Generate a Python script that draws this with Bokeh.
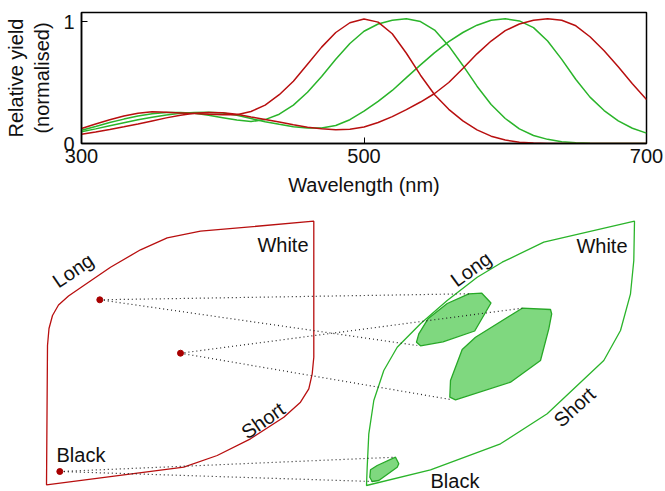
import math
from bokeh.plotting import figure
from bokeh.models import Range1d, FixedTicker
from bokeh.core.properties import value
from bokeh.embed import file_html
from bokeh.resources import INLINE

# ---------------- data: spectral curves ----------------
wavelength = [300, 310, 320, 330, 340, 350, 360, 370, 380, 390, 400, 410, 420, 430,
              440, 450, 460, 470, 480, 490, 500, 510, 520, 530, 540, 550, 560, 570,
              580, 590, 600, 610, 620, 630, 640, 650, 660, 670, 680, 690, 700]
red_500 = [0.123, 0.160, 0.195, 0.225, 0.248, 0.260, 0.257, 0.251, 0.245, 0.240, 0.236,
           0.236, 0.262, 0.315, 0.400, 0.510, 0.650, 0.790, 0.910, 0.990, 1.020, 0.995,
           0.900, 0.740, 0.560, 0.400, 0.280, 0.185, 0.112, 0.060, 0.028, 0.011, 0.004,
           0.001, 0.0, 0.0, 0.0, 0.0, 0.0, 0.0, 0.0]
green_530 = [0.109, 0.140, 0.172, 0.200, 0.225, 0.243, 0.254, 0.255, 0.247, 0.232, 0.212,
             0.192, 0.180, 0.196, 0.240, 0.315, 0.420, 0.550, 0.690, 0.820, 0.920, 0.980,
             1.010, 1.022, 1.000, 0.930, 0.800, 0.640, 0.470, 0.320, 0.205, 0.120, 0.066,
             0.034, 0.015, 0.006, 0.002, 0.0, 0.0, 0.0, 0.0]
green_600 = [0.096, 0.120, 0.145, 0.170, 0.195, 0.215, 0.233, 0.247, 0.255, 0.257, 0.250,
             0.232, 0.205, 0.178, 0.157, 0.138, 0.127, 0.127, 0.148, 0.195, 0.265, 0.345,
             0.435, 0.540, 0.645, 0.745, 0.835, 0.910, 0.970, 1.010, 1.022, 1.005, 0.950,
             0.840, 0.690, 0.525, 0.380, 0.270, 0.185, 0.125, 0.085]
red_630 = [0.076, 0.095, 0.115, 0.137, 0.160, 0.185, 0.210, 0.232, 0.248, 0.255, 0.252,
           0.240, 0.218, 0.197, 0.176, 0.153, 0.133, 0.120, 0.113, 0.116, 0.135, 0.172,
           0.220, 0.278, 0.340, 0.410, 0.500, 0.615, 0.735, 0.840, 0.925, 0.980, 1.010,
           1.022, 1.010, 0.965, 0.875, 0.760, 0.630, 0.490, 0.360]
x_ticks = [300, 500, 700]
y_ticks = [0, 1]

# ---------------- data: colour-space diagram (page pixel units) ----------------
red_space_x = [313.3, 200.0, 166.7, 140.0, 110.0, 83.3, 68.0, 58.0, 52.0, 48.5, 47.0, 46.0,
               183.3, 216.7, 250.0, 283.3, 300.0, 308.3, 311.7, 313.3]
red_space_y = [220.7, 230.7, 237.3, 249.3, 266.7, 285.0, 295.5, 304.5, 315.0, 328.0, 345.0, 484.3,
               466.7, 455.0, 438.3, 416.7, 401.7, 388.3, 373.3, 356.7]
green_space_x = [634.0, 543.3, 501.7, 476.7, 446.7, 420.0, 396.7, 383.3, 373.3, 368.3,
                 366.7, 366.0, 430.0, 500.0, 546.7, 603.3, 620.0, 630.0, 633.3]
green_space_y = [220.7, 241.7, 261.7, 276.7, 300.0, 323.3, 346.7, 370.0, 400.0, 433.3,
                 466.7, 485.0, 469.3, 443.3, 413.3, 360.0, 330.0, 293.3, 260.0]
blob_a_x = [468.3, 481.3, 490.5, 474.2, 442.5, 420.0, 416.0, 418.3, 427.5, 446.7]
blob_a_y = [293.3, 292.7, 302.5, 330.5, 341.3, 345.3, 341.7, 333.3, 318.3, 303.0]
blob_b_x = [521.7, 550.0, 551.2, 548.3, 540.0, 510.0, 455.0, 449.3, 450.0, 461.7, 475.0]
blob_b_y = [307.7, 309.0, 313.3, 328.3, 360.0, 381.7, 399.3, 396.7, 380.0, 349.0, 336.7]
blob_c_x = [395.0, 398.3, 396.7, 378.3, 371.7, 369.3, 370.0, 376.7]
blob_c_y = [456.7, 463.3, 466.7, 480.0, 481.0, 476.7, 469.3, 465.0]
dot_x = [99.3, 180.0, 59.3]
dot_y = [299.3, 352.7, 471.0]
link_x0 = [99.3, 99.3, 180.0, 180.0, 59.3, 59.3]
link_y0 = [299.3, 299.3, 352.7, 352.7, 471.0, 471.0]
link_x1 = [468.3, 416.7, 521.7, 451.7, 395.0, 371.7]
link_y1 = [293.3, 345.0, 307.7, 399.3, 456.7, 481.0]
label_text = ["Long", "White", "Short", "Black", "Long", "White", "Short", "Black"]
label_x = [72.5, 308.0, 262.5, 56.0, 470.5, 627.0, 574.0, 430.0]
label_y = [270.0, 244.5, 420.0, 454.0, 268.5, 245.5, 406.5, 480.0]
label_angle_deg = [34, 0, 35, 0, 36, 0, 42, 0]
label_align = ["center", "right", "center", "left", "center", "right", "center", "left"]

FONT = "Liberation Sans"
RED = "#b80f0f"
GREEN = "#2ab42a"
TOP_H = 200
PAGE_W, PAGE_H = 665, 491

# ---------------- top: spectral curves ----------------
top = figure(width=PAGE_W, height=TOP_H, x_range=Range1d(300, 700), y_range=Range1d(0, 1.074),
             output_backend="svg", toolbar_location=None,
             min_border_left=81, min_border_right=19, min_border_top=12, min_border_bottom=57)
top.grid.visible = False
top.outline_line_color = "black"
top.outline_line_width = 1.5
top.xaxis.ticker = FixedTicker(ticks=x_ticks)
top.yaxis.ticker = FixedTicker(ticks=y_ticks)
for ax in (top.xaxis[0], top.yaxis[0]):
    ax.major_tick_in = 6
    ax.major_tick_out = 0
    ax.minor_tick_line_color = None
    ax.axis_line_width = 1.5
    ax.major_tick_line_width = 1
    ax.major_label_text_font = FONT
    ax.major_label_text_font_size = "20px"
    ax.major_label_text_color = "#111111"
    ax.axis_label_text_font = FONT
    ax.axis_label_text_font_size = "20px"
    ax.axis_label_text_font_style = "normal"
    ax.axis_label_text_color = "#111111"
top.xaxis.major_label_standoff = 5
top.xaxis.axis_label_standoff = 8
top.yaxis.major_label_standoff = 7
top.yaxis.axis_label_standoff = 7
top.xaxis.axis_label = "Wavelength (nm)"
top.yaxis.axis_label = "Relative yield\n(normalised)"

for ys, col in ((green_530, GREEN), (green_600, GREEN), (red_500, RED), (red_630, RED)):
    top.line(wavelength, ys, line_color=col, line_width=1.5)

# ---------------- bottom: colour spaces ----------------
bot = figure(width=PAGE_W, height=PAGE_H - TOP_H, x_range=Range1d(0, PAGE_W),
             y_range=Range1d(PAGE_H, TOP_H),
             output_backend="svg", toolbar_location=None,
             x_axis_location=None, y_axis_location=None, min_border=0)
bot.grid.visible = False
bot.outline_line_color = None

for bx, by in ((blob_a_x, blob_a_y), (blob_b_x, blob_b_y), (blob_c_x, blob_c_y)):
    bot.patch(bx, by, fill_color="#7fd87f", line_color="#27a827", line_width=1.3)

bot.patch(red_space_x, red_space_y, fill_color=None, fill_alpha=0,
          line_color=RED, line_width=1.3)
bot.patch(green_space_x, green_space_y, fill_color=None, fill_alpha=0,
          line_color=GREEN, line_width=1.3)

bot.segment(x0=link_x0, y0=link_y0, x1=link_x1, y1=link_y1,
            line_color="#222222", line_width=1.2, line_dash="1 3")

bot.scatter(dot_x, dot_y, size=6, fill_color="#a80000", line_color="#a80000")

for t, x, y, a, al in zip(label_text, label_x, label_y, label_angle_deg, label_align):
    bot.text(x=[x], y=[y], text=[t], angle=math.radians(a), text_align=al,
             text_baseline="middle", text_font=value(FONT), text_font_size="20px",
             text_color="#111111")

open("out.html", "w").write(file_html([top, bot], INLINE))
